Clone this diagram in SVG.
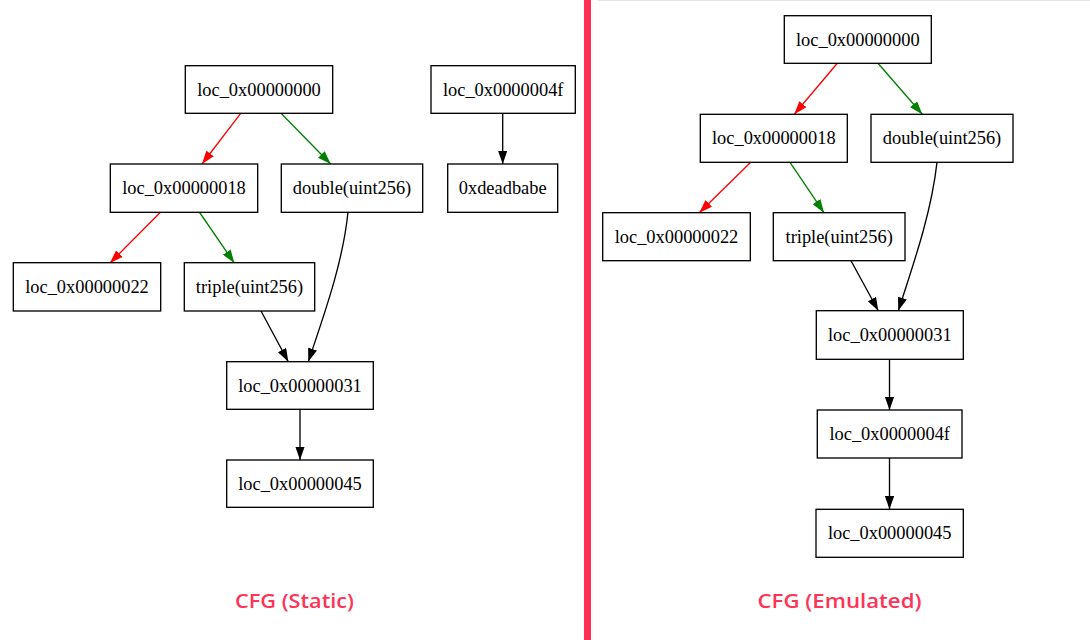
<svg xmlns="http://www.w3.org/2000/svg" width="1090" height="640" viewBox="0 0 1090 640">
<defs>
<style>
.box{fill:#fff;stroke:#000;stroke-width:1.33}
.lbl{font-family:"Liberation Serif","Times New Roman",serif;font-size:18.4px;fill:#000;text-anchor:middle}
.e{fill:none;stroke-width:1.33}
.r{stroke:#ff0000}.g{stroke:#008000}.k{stroke:#000}
.title{font-family:"Open Sans","Noto Sans",sans-serif;font-size:19.5px;font-weight:600;fill:#fe3358;text-anchor:middle}
</style>
<marker id="ar" viewBox="0 0 13.3 9.3" refX="13.3" refY="4.65" markerWidth="13.3" markerHeight="9.3" markerUnits="userSpaceOnUse" orient="auto"><path d="M0,0L13.3,4.65L0,9.3z" fill="#ff0000"/></marker>
<marker id="ag" viewBox="0 0 13.3 9.3" refX="13.3" refY="4.65" markerWidth="13.3" markerHeight="9.3" markerUnits="userSpaceOnUse" orient="auto"><path d="M0,0L13.3,4.65L0,9.3z" fill="#008000"/></marker>
<marker id="ak" viewBox="0 0 13.3 9.3" refX="13.3" refY="4.65" markerWidth="13.3" markerHeight="9.3" markerUnits="userSpaceOnUse" orient="auto"><path d="M0,0L13.3,4.65L0,9.3z" fill="#000"/></marker>
<filter id="blur" x="-1" y="-0.1" width="3" height="1.2"><feGaussianBlur stdDeviation="0.7"/></filter>
</defs>
<rect width="1090" height="640" fill="#fff"/>
<line x1="598" y1="0.5" x2="1090" y2="0.5" stroke="#e6e6e6" stroke-width="1"/>
<rect x="584" y="-10" width="7" height="660" fill="#ff2d55" filter="url(#blur)"/>

<g id="connectors">
<path class="e r" d="M240.7,113.3L202,164" marker-end="url(#ar)"/>
<path class="e g" d="M281,113.3L330.7,164" marker-end="url(#ag)"/>
<path class="e r" d="M160.7,212L110,263" marker-end="url(#ar)"/>
<path class="e g" d="M199.3,212L234.3,263" marker-end="url(#ag)"/>
<path class="e k" d="M261,311L288.3,361.7" marker-end="url(#ak)"/>
<path class="e k" d="M348,212C343,262 325,312 308.3,361.7" marker-end="url(#ak)"/>
<path class="e k" d="M300,409.3L300,460" marker-end="url(#ak)"/>
<path class="e k" d="M502.7,113.3L502.7,164" marker-end="url(#ak)"/>

<path class="e r" d="M837.3,63.3L794.3,114.3" marker-end="url(#ar)"/>
<path class="e g" d="M878,63.3L922.3,114.3" marker-end="url(#ag)"/>
<path class="e r" d="M750.7,162.3L699.3,212.7" marker-end="url(#ar)"/>
<path class="e g" d="M790,162.3L824,212.7" marker-end="url(#ag)"/>
<path class="e k" d="M851,260.7L878.3,310.7" marker-end="url(#ak)"/>
<path class="e k" d="M937,162.3C931,215 913,265 898.3,310.7" marker-end="url(#ak)"/>
<path class="e k" d="M889.5,359.3L889.5,410" marker-end="url(#ak)"/>
<path class="e k" d="M889.5,458L889.5,509.3" marker-end="url(#ak)"/>
</g>

<g id="s_n0"><rect class="box" x="185.3" y="65.7" width="147.4" height="47.6"/><text class="lbl" x="259" y="95.5">loc_0x00000000</text></g>
<g id="s_n18"><rect class="box" x="110.3" y="164" width="147.4" height="48.3"/><text class="lbl" x="184" y="194.2">loc_0x00000018</text></g>
<g id="s_double"><rect class="box" x="281.3" y="164" width="141.4" height="48.3"/><text class="lbl" x="352" y="194.2">double(uint256)</text></g>
<g id="s_n4f"><rect class="box" x="431" y="65.7" width="144.3" height="47.6"/><text class="lbl" x="503.2" y="95.5">loc_0x0000004f</text></g>
<g id="s_dead"><rect class="box" x="447.7" y="164" width="110" height="48.3"/><text class="lbl" x="502.7" y="194.2">0xdeadbabe</text></g>
<g id="s_n22"><rect class="box" x="13.3" y="262.7" width="147.4" height="48.3"/><text class="lbl" x="87" y="292.9">loc_0x00000022</text></g>
<g id="s_triple"><rect class="box" x="184.3" y="262.7" width="130.4" height="48.3"/><text class="lbl" x="249.5" y="292.9">triple(uint256)</text></g>
<g id="s_n31"><rect class="box" x="226.7" y="361.7" width="146.6" height="47.6"/><text class="lbl" x="300" y="391.5">loc_0x00000031</text></g>
<g id="s_n45"><rect class="box" x="226.7" y="460" width="146.6" height="47.3"/><text class="lbl" x="300" y="489.7">loc_0x00000045</text></g>

<g id="e_n0"><rect class="box" x="784.3" y="15.7" width="147" height="47.6"/><text class="lbl" x="857.8" y="45.5">loc_0x00000000</text></g>
<g id="e_n18"><rect class="box" x="700.3" y="114.3" width="147" height="48"/><text class="lbl" x="773.8" y="144.3">loc_0x00000018</text></g>
<g id="e_double"><rect class="box" x="871" y="114.3" width="142" height="48"/><text class="lbl" x="942" y="144.3">double(uint256)</text></g>
<g id="e_n22"><rect class="box" x="602.7" y="212.7" width="147.6" height="48"/><text class="lbl" x="676.5" y="242.7">loc_0x00000022</text></g>
<g id="e_triple"><rect class="box" x="773.3" y="212.7" width="131.7" height="48"/><text class="lbl" x="839.2" y="242.7">triple(uint256)</text></g>
<g id="e_n31"><rect class="box" x="816.3" y="310.7" width="147" height="48.6"/><text class="lbl" x="889.8" y="341">loc_0x00000031</text></g>
<g id="e_n4f"><rect class="box" x="817.3" y="410" width="144.7" height="48"/><text class="lbl" x="889.7" y="440">loc_0x0000004f</text></g>
<g id="e_n45"><rect class="box" x="816" y="509.3" width="147.3" height="48"/><text class="lbl" x="889.7" y="539.3">loc_0x00000045</text></g>

<text class="title" x="294.5" y="608" textLength="119" lengthAdjust="spacingAndGlyphs">CFG (Static)</text>
<text class="title" x="839.5" y="608" textLength="164" lengthAdjust="spacingAndGlyphs">CFG (Emulated)</text>
</svg>
